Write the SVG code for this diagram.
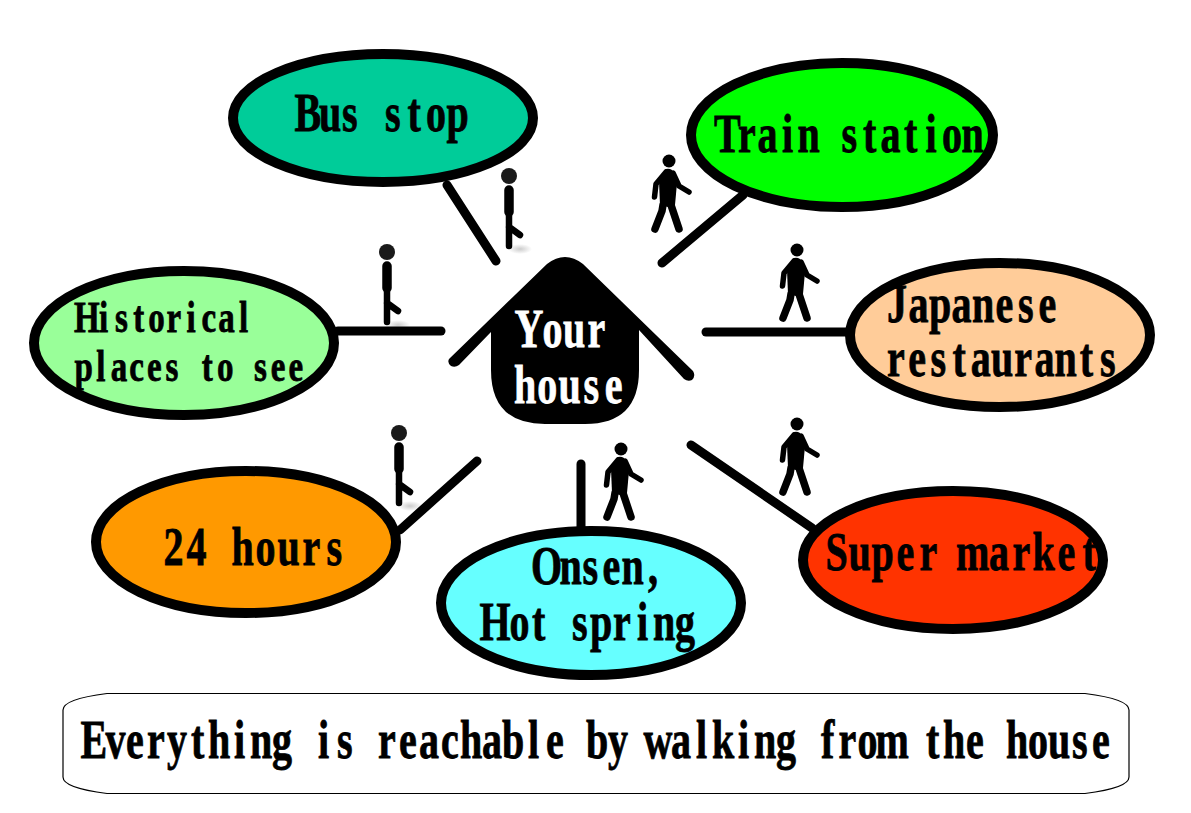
<svg xmlns="http://www.w3.org/2000/svg" xmlns:xlink="http://www.w3.org/1999/xlink" width="1191" height="813" viewBox="0 0 1191 813">
<style>
.bub{stroke:#000;stroke-width:10}
.con{stroke:#000;stroke-width:9;stroke-linecap:round;fill:none}
text{font-family:"Liberation Serif","Times New Roman",serif;font-weight:bold;font-size:40px;fill:#000;stroke:#000;stroke-width:.6}
text.w{fill:#fff;stroke:#fff}
text.s{font-size:33px}
.lim{stroke:#000;stroke-linecap:round;stroke-linejoin:round;fill:none}
</style>
<defs>
<radialGradient id="sh"><stop offset="0" stop-color="#ccc"/><stop offset="1" stop-color="#fff"/></radialGradient>
<g id="walker">
<circle cx="0" cy="0" r="6.500" fill="#000"/>
<path d="M-3 8Q0 7 3 9L8 22L6 44L-1 46L-9 44L-10 20Z" fill="#000"/>
<path class="lim" stroke-width="5.500" d="M-3 11L-13 23L-14.500 36M4 12L10 25L20 31"/>
<path class="lim" stroke-width="7.500" d="M-6 44L-7 50L-14 68M2 44L4 50L10 68"/>
</g>
<g id="stick">
<ellipse cx="11" cy="73" rx="12" ry="5" fill="url(#sh)"/>
<circle cx="0" cy="0" r="8" fill="#1a1a1a"/>
<path class="lim" stroke="#1a1a1a" stroke-width="9.500" d="M0 14V36"/>
<path class="lim" stroke="#141414" stroke-width="6.500" d="M0 38V70M0 51L11 59"/>
</g>
</defs>
<g id="walkers">
<use xlink:href="#stick" href="#stick" x="509" y="176"/>
<use xlink:href="#stick" href="#stick" x="387" y="252"/>
<use xlink:href="#stick" href="#stick" x="399" y="433"/>
<use xlink:href="#walker" href="#walker" x="669" y="161"/>
<use xlink:href="#walker" href="#walker" x="797" y="250"/>
<use xlink:href="#walker" href="#walker" x="621" y="449"/>
<use xlink:href="#walker" href="#walker" x="797" y="424"/>
</g>
<g id="connectors">
<path class="con" d="M447 185L496 261"/>
<path class="con" d="M743 195L662 263"/>
<path class="con" d="M706 332H850"/>
<path class="con" d="M338 331H441"/>
<path class="con" d="M691 445L812 528"/>
<path class="con" d="M581 464V530"/>
<path class="con" d="M400 530L477 461"/>
</g>
<g id="bus-stop"><ellipse class="bub" cx="383" cy="118" rx="150" ry="64" fill="#00cc99"/><text transform="translate(295.500 131) scale(1 1.35)" x="-1 23.500 46.500 64.500 89.500 112 130.500 151">Bus stop</text></g>
<g id="train-station"><ellipse class="bub" cx="842" cy="135" rx="151" ry="72" fill="#00ff00"/><text transform="translate(715 152) scale(1 1.35)" x="-1 23 42.500 67 82.500 102.500 126.500 148 165.500 189 210.500 227 246.500">Train station</text></g>
<g id="japanese-restaurants"><ellipse class="bub" cx="1000" cy="335" rx="150" ry="72" fill="#ffcc99"/><text transform="translate(885.500 322) scale(1 1.35)" x="1.500 23 43.500 66 86.500 110 132.500 153">Japanese</text><text transform="translate(884.500 376) scale(1 1.35)" x="2.500 23.700 45.900 68.100 86.300 106.500 129.700 149.900 170.100 195.300 215.500">restaurants</text></g>
<g id="super-market"><ellipse class="bub" cx="953" cy="560" rx="150" ry="69" fill="#ff3300"/><text transform="translate(825 570) scale(1 1.35)" x="0.500 23.500 46.500 71.500 94.500 115 131 164 187.500 207.500 232.500 257.500">Super market</text></g>
<g id="onsen"><ellipse class="bub" cx="591" cy="603" rx="150" ry="72" fill="#66ffff"/><text transform="translate(537 584) scale(1 1.35)" x="-6 22.500 45.500 65.500 84.500 111">Onsen,</text><text transform="translate(484.500 640) scale(1 1.35)" x="-5 25 47.500 63 87.500 105.500 128.500 152.500 168.500 190.500">Hot spring</text></g>
<g id="hours"><ellipse class="bub" cx="246" cy="542" rx="150" ry="71" fill="#ff9900"/><text transform="translate(162 565) scale(1 1.35)" x="1.500 24.500 46 69.500 93.500 115.500 140.500 164.500">24 hours</text></g>
<g id="historical"><ellipse class="bub" cx="184" cy="343" rx="150" ry="72" fill="#99ff99"/><text class="s" transform="translate(77 332) scale(1 1.35)" x="-2.900 22.100 37.900 56.300 71.300 89.600 109.600 124.600 141.300 162.100">Historical</text><text class="s" transform="translate(74 381) scale(1 1.35)" x="0.400 22.300 36.700 55.200 72.900 91.400 106.200 127.700 142.900 159.300 179.900 196.800 214.500">places to see</text></g>
<g id="your-house">
<path fill="#000" d="M449 359L547 264Q565 250 583 264L693 371Q696 376 692 380Q688 382 684 379L639 330V370Q639 424 585 424H545Q491 424 491 370V332L459 365Q455 368 451 366Q447 363 449 359Z"/>
<text class="w" transform="translate(517.500 347) scale(1 1.35)" x="-3 25 45.500 70">Your</text>
<text class="w" transform="translate(513.500 403) scale(1 1.35)" x="0.500 23.700 44.900 70.100 91.300">house</text>
</g>
<g id="caption">
<path fill="#fff" stroke="#000" stroke-width="1.2" d="M107 693.500H1085Q1129 699 1129 710V777Q1129 788 1085 793.500H107Q63 788 63 777V710Q63 699 107 693.500Z"/>
<text transform="translate(81.500 758) scale(1 1.35)" x="-1 24 44.500 65.500 85.500 109.500 126.500 152.500 168.500 190.500 210 236.500 255.500 273 296.500 317.500 337.500 359.500 378.500 400.500 420.500 446.500 464.500 483 504.500 526.500 546 562 589.500 614.500 630.500 656.500 672.500 694.500 714 739.500 757 776 794 819 844.500 861.500 884.500 903 924.500 946.500 966.500 990.500 1010.500">Everything is reachable by walking from the house</text>
</g>
</svg>
